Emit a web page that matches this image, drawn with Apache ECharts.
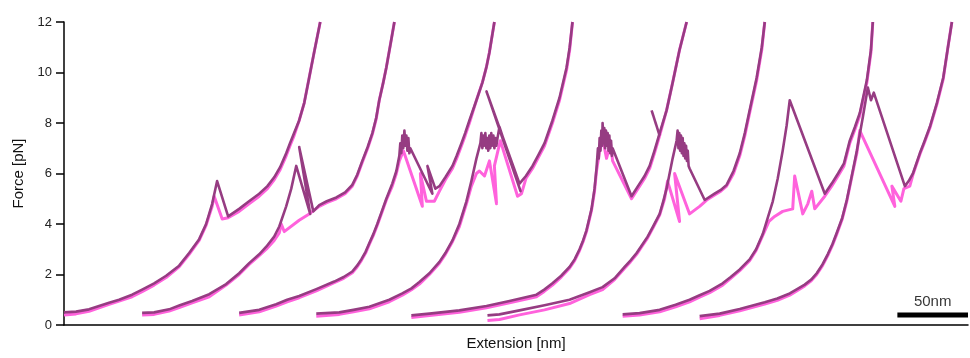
<!DOCTYPE html>
<html>
<head>
<meta charset="utf-8">
<script src="https://cdn.jsdelivr.net/npm/echarts@6/dist/echarts.min.js"></script>
<style>
  html, body { margin: 0; padding: 0; background: #fff; }
  #chart { width: 970px; height: 358px; }
</style>
</head>
<body>
<div id="chart"></div>
<script>
// force-extension traces, x in nm, y in pN
// pull = dark trace, relax = pink trace
const pull1 = [[0,0.5],[8.5,0.53],[17.7,0.62],[24.8,0.75],[31.9,0.88],[39,1.0],[48.2,1.2],[55.3,1.4],[63.8,1.65],[72.3,1.95],[81.5,2.35],[88.6,2.85],[95.7,3.4],[100.6,4.0],[104.9,4.8],[108.4,5.7],[116.2,4.3],[124,4.6],[131,4.9],[138.2,5.2],[144,5.5],[148.8,5.85],[153,6.25],[157.3,6.8],[160,7.2],[162.9,7.6],[166.5,8.1],[170.1,8.8],[173.6,9.8],[177.1,10.8],[181.4,12.0]]
const relax1 = [[0,0.4],[8.5,0.44],[17.7,0.54],[24.8,0.68],[31.9,0.82],[39,0.95],[48.2,1.12],[55.3,1.32],[63.8,1.58],[72.3,1.88],[81.5,2.3],[88.6,2.8],[95.7,3.35],[100.6,3.95],[104.9,4.7],[106.3,5.1],[112,4.2],[116.2,4.25],[124,4.5],[131,4.8],[138.2,5.1],[144,5.4],[148.8,5.75],[153,6.15],[157.3,6.7],[160,7.1],[162.9,7.5],[166.5,8.1],[170.1,8.8],[173.6,9.8],[177.1,10.8],[181.4,12.0]]

const pull2 = [[55.3,0.48],[63.8,0.5],[74.4,0.62],[82,0.78],[90.7,0.95],[102.8,1.22],[114.8,1.62],[124,2.05],[131.1,2.45],[138.2,2.8],[143.2,3.1],[148.8,3.5],[152.4,3.9],[157.3,4.7],[160.9,5.4],[164.4,6.3],[174.3,4.4],[166.5,7.05],[176.5,4.5],[180.7,4.75],[186,4.9],[192.8,5.05],[199,5.25],[204.1,5.55],[207.6,5.95],[211.2,6.5],[215,7.05],[218.3,7.6],[221,8.2],[223.2,8.9],[226,9.6],[228.2,10.2],[231.7,11.3],[233.9,12]]
const relax2 = [[55.3,0.4],[63.8,0.42],[74.4,0.55],[82,0.7],[90.7,0.88],[102.8,1.12],[114.8,1.58],[124,2.0],[131.1,2.4],[138.2,2.75],[143.2,3.0],[148.8,3.35],[152.4,3.65],[153.8,4.0],[155.9,3.7],[166.5,4.15],[173.6,4.4],[180.7,4.7],[186,4.85],[192.8,5.0],[199,5.2],[204.1,5.5],[207.6,5.9],[211.2,6.45],[215,7.0],[218.3,7.55],[221,8.15],[223.2,8.9],[226,9.6],[228.2,10.2],[231.7,11.3],[233.9,12]]

const pull3 = [[124,0.48],[138.2,0.6],[150.2,0.82],[158,1.0],[166.5,1.15],[178.6,1.42],[191.3,1.72],[198,1.9],[204.1,2.12],[207.5,2.35],[210.5,2.6],[213.5,2.9],[216.2,3.25],[219,3.6],[221.8,4.0],[225,4.5],[228.2,5.0],[232.4,5.6],[235.3,6.1],[237.4,6.7],[238.1,7.2],[238.8,6.8],[239.5,7.5],[240.2,7.0],[241,7.7],[241.7,7.1],[242.4,7.5],[243.1,6.9],[243.8,7.4],[244.5,6.8],[245.2,7.0],[260.8,5.2],[257.3,6.3],[262.9,5.4],[265.8,5.5],[270,5.85],[275,6.3],[278,6.7],[281.4,7.2],[284,7.6],[287,8.1],[292,8.9],[296.2,9.6],[299,10.2],[301.2,10.8],[304.7,12]]
const relax3 = [[124,0.4],[138.2,0.52],[150.2,0.75],[158,0.92],[166.5,1.08],[178.6,1.35],[191.3,1.68],[198,1.85],[204.1,2.07],[207.5,2.3],[210.5,2.55],[213.5,2.85],[216.2,3.2],[219,3.55],[221.8,3.95],[225,4.45],[228.2,4.95],[232.4,5.5],[235.3,6.0],[237.4,6.5],[240.3,6.9],[253.7,4.7],[252.3,6.0],[256.6,4.9],[262.2,4.9],[265.8,5.3],[270,5.75],[275,6.2],[278,6.6],[281.4,7.1],[284,7.5],[287,8.0],[292,8.9],[296.2,9.6],[299,10.2],[301.2,10.8],[304.7,12]]

const pull4 = [[178.6,0.45],[194.9,0.5],[205,0.6],[216.2,0.72],[230.3,1.0],[239.5,1.25],[246,1.45],[251.6,1.7],[258.7,2.05],[265.8,2.5],[270,2.85],[275,3.35],[279.9,4.0],[284.9,4.9],[288.4,5.7],[292,6.6],[294.8,7.2],[295.5,7.6],[296.2,7.0],[296.9,7.5],[297.6,7.1],[298.3,7.6],[299,7.0],[299.7,7.4],[300.4,6.9],[301.1,7.5],[301.8,7.0],[302.5,7.6],[303.2,7.1],[304,7.5],[304.7,7.0],[305.4,7.4],[306.1,7.1],[306.9,7.4],[308.3,7.85],[323.2,5.3],[299.1,9.25],[322.5,5.6],[327,5.9],[331.7,6.3],[336,6.75],[340.2,7.2],[345.8,8.1],[350.8,9.0],[355.8,10.2],[358,11.0],[360,12]]
const relax4 = [[178.6,0.35],[194.9,0.42],[205,0.52],[216.2,0.64],[230.3,0.92],[239.5,1.18],[246,1.4],[251.6,1.62],[258.7,2.0],[265.8,2.45],[270,2.8],[275,3.3],[279.9,3.9],[284.9,4.8],[288.4,5.5],[292,6.0],[294.1,6.1],[297.7,5.9],[301.2,6.5],[306.2,4.8],[304.7,6.3],[308.9,7.3],[321.1,5.1],[323.9,5.2],[327,5.8],[331.7,6.2],[336,6.65],[340.2,7.1],[345.8,8.0],[350.8,8.9],[355.8,10.1],[358,10.9],[360,12]]

const pull5 = [[245.9,0.38],[258.7,0.45],[279.9,0.58],[299.1,0.75],[315.4,0.95],[334.5,1.2],[340,1.4],[345.8,1.65],[352,1.95],[357.9,2.3],[361.5,2.6],[365,3.0],[367.5,3.35],[369.9,3.75],[373.5,4.6],[375.6,5.4],[377,6.2],[378,7.0],[378.6,6.6],[379.2,7.4],[379.8,6.9],[380.4,7.7],[381,7.1],[381.3,8.0],[381.9,7.2],[382.5,7.8],[383.1,7.0],[383.7,7.7],[384.3,7.1],[384.9,7.6],[385.5,6.9],[386.1,7.5],[386.7,6.8],[387.3,7.3],[387.9,6.7],[388.4,7.0],[401.8,5.1],[407.5,5.6],[411,5.9],[414.6,6.3],[418,6.9],[421.7,7.6],[426.6,8.5],[430.9,9.6],[435.8,10.9],[440.8,12]]
const relax5 = [[245.9,0.3],[258.7,0.38],[279.9,0.5],[299.1,0.68],[315.4,0.88],[334.5,1.12],[340,1.33],[345.8,1.58],[352,1.9],[357.9,2.25],[361.5,2.55],[365,2.95],[367.5,3.3],[369.9,3.7],[373.5,4.55],[375.6,5.3],[377,6.1],[379.2,6.9],[381.3,7.4],[384.1,6.6],[386.9,7.2],[388.4,6.5],[401.8,5.0],[407.5,5.5],[411,5.8],[414.6,6.2],[418,6.8],[421.7,7.5],[426.6,8.5],[430.9,9.6],[435.8,10.9],[440.8,12]]
const spike5 = [[416,8.5],[421.7,7.5]]

const pull6 = [[299.8,0.38],[308.3,0.42],[322.5,0.58],[340.2,0.78],[357.9,1.0],[372.1,1.3],[381.3,1.5],[389.8,1.85],[396.9,2.3],[401,2.55],[405.4,2.85],[409,3.15],[413.2,3.5],[417,3.9],[421.7,4.4],[424,4.85],[426.6,5.4],[430.9,6.6],[433.7,7.3],[434.4,7.7],[435,7.0],[435.6,7.6],[436.2,6.9],[436.8,7.5],[437.4,6.8],[438,7.4],[438.6,6.7],[439.2,7.2],[439.8,6.6],[440.4,7.1],[441,6.5],[441.6,6.9],[442.2,6.3],[442.9,6.2],[453.6,4.95],[460.6,5.2],[465,5.35],[469.1,5.55],[474,6.1],[478.4,6.8],[482,7.6],[485.4,8.5],[490.4,9.8],[494,11.0],[496.1,12]]
const relax6 = [[299.8,0.18],[308.3,0.22],[322.5,0.4],[340.2,0.6],[357.9,0.85],[372.1,1.2],[381.3,1.4],[389.8,1.8],[396.9,2.25],[401,2.5],[405.4,2.8],[409,3.1],[413.2,3.45],[417,3.85],[421.7,4.35],[425.2,5.0],[427.3,5.7],[435.8,4.1],[432.3,6.0],[442.9,4.4],[450,4.7],[455,4.95],[460.6,5.15],[465,5.3],[469.1,5.5],[474,6.0],[478.4,6.7],[482,7.5],[485.4,8.4],[490.4,9.7],[494,10.9],[496.1,12]]

const pull7 = [[395.5,0.42],[407.5,0.47],[421.7,0.6],[433,0.8],[442.9,1.0],[450,1.18],[457.1,1.35],[466.3,1.65],[472,1.9],[478.4,2.2],[485.4,2.6],[490,3.0],[494.7,3.6],[498,4.2],[501.8,4.9],[505.3,5.8],[508.8,6.9],[511.6,7.9],[513.8,8.9],[538.6,5.2],[543.5,5.6],[548,6.0],[552.2,6.4],[556.3,7.3],[560,7.85],[563.4,8.4],[568.4,9.7],[571.3,10.9],[572.6,12]]
const relax7 = [[395.5,0.35],[407.5,0.4],[421.7,0.52],[433,0.72],[442.9,0.92],[450,1.1],[457.1,1.28],[466.3,1.58],[472,1.85],[478.4,2.15],[485.4,2.55],[490,2.95],[494.7,3.55],[499.1,4.1],[503.1,4.3],[508.8,4.5],[515.9,4.6],[517.3,5.9],[523,4.4],[526.6,4.8],[529.4,5.3],[531.5,4.6],[538.6,5.1],[543.5,5.5],[548,5.9],[552.2,6.3],[556.3,7.2],[560,7.75],[563.4,8.3],[568.4,9.6],[571.3,10.8],[572.6,12]]

const pull8 = [[450,0.35],[464.2,0.45],[478.4,0.63],[496.1,0.9],[505,1.05],[513.8,1.25],[519,1.42],[524.4,1.6],[529,1.8],[532.9,2.05],[537,2.4],[540.7,2.8],[544,3.2],[547.1,3.65],[551,4.25],[554.2,4.95],[557.7,5.9],[561.3,6.9],[565.6,8.25],[569.1,9.4],[571.3,8.9],[573.3,9.2],[595.3,5.5],[598,5.7],[601,6.0],[605.9,6.8],[609,7.25],[613,7.85],[618,8.8],[622.5,9.8],[625.8,11.0],[628.6,12]]
const relax8 = [[450,0.25],[464.2,0.38],[478.4,0.56],[496.1,0.83],[505,0.98],[513.8,1.18],[519,1.36],[524.4,1.55],[529,1.75],[532.9,2.0],[537,2.35],[540.7,2.75],[544,3.15],[547.1,3.6],[551,4.2],[554.2,4.9],[557.7,5.85],[561.3,6.8],[563.4,7.7],[588.2,4.7],[586.1,5.5],[592.5,4.9],[594.6,5.4],[598.8,5.5],[601,5.95],[605.9,6.75],[609,7.2],[613,7.8],[618,8.75],[622.5,9.75],[625.8,11.0],[628.6,12]]

const pullTraces = [pull1, pull2, pull3, pull4, pull5, pull6, pull7, pull8, spike5]
const relaxTraces = [relax1, relax2, relax3, relax4, relax5, relax6, relax7, relax8]

// 50 nm scale bar
const scaleBar = [[590, 0.4], [640, 0.4]]
const scaleLabel = [[615, 0.4]]

const forceTicks = [0, 2, 4, 6, 8, 10, 12]

const DARK = "#963c82"
const PINK = "#ff62dc"

const lineSeries = (data, color, width) => ({
  type: "line",
  data,
  symbol: "none",
  silent: true,
  lineStyle: { color, width, join: "round" },
})

const chart = echarts.init(document.getElementById("chart"))
chart.setOption({
  animation: false,
  grid: { left: 64, right: 2, top: 22, bottom: 33 },
  xAxis: {
    type: "value",
    min: 0,
    max: 640,
    name: "Extension [nm]",
    nameLocation: "middle",
    nameGap: 11,
    nameTextStyle: { fontFamily: "Liberation Sans", fontSize: 15, color: "#111" },
    axisLine: { show: true, lineStyle: { color: "#000", width: 1.5 } },
    axisTick: { show: false },
    axisLabel: { show: false },
    splitLine: { show: false },
  },
  yAxis: {
    type: "value",
    min: forceTicks[0],
    max: forceTicks[forceTicks.length - 1],
    interval: 2,
    name: "Force [pN]",
    nameLocation: "middle",
    nameGap: 34,
    nameTextStyle: { fontFamily: "Liberation Sans", fontSize: 15, color: "#111" },
    axisLine: { show: true, lineStyle: { color: "#000", width: 1.5 } },
    axisTick: { show: true, length: 8, lineStyle: { color: "#000", width: 1.5 } },
    axisLabel: { fontFamily: "Liberation Sans", fontSize: 13, color: "#222", margin: 12 },
    splitLine: { show: false },
  },
  series: [
    ...relaxTraces.map((d) => lineSeries(d, PINK, 3)),
    ...pullTraces.map((d) => lineSeries(d, DARK, 2.6)),
    {
      type: "line",
      data: scaleBar,
      symbol: "none",
      silent: true,
      clip: false,
      lineStyle: { color: "#000", width: 5, cap: "butt" },
    },
    {
      type: "scatter",
      data: scaleLabel,
      symbolSize: 0,
      silent: true,
      label: {
        show: true,
        position: "top",
        distance: 6,
        formatter: "50nm",
        fontFamily: "Liberation Sans",
        fontSize: 15,
        color: "#000",
      },
    },
  ],
})
</script>
</body>
</html>
